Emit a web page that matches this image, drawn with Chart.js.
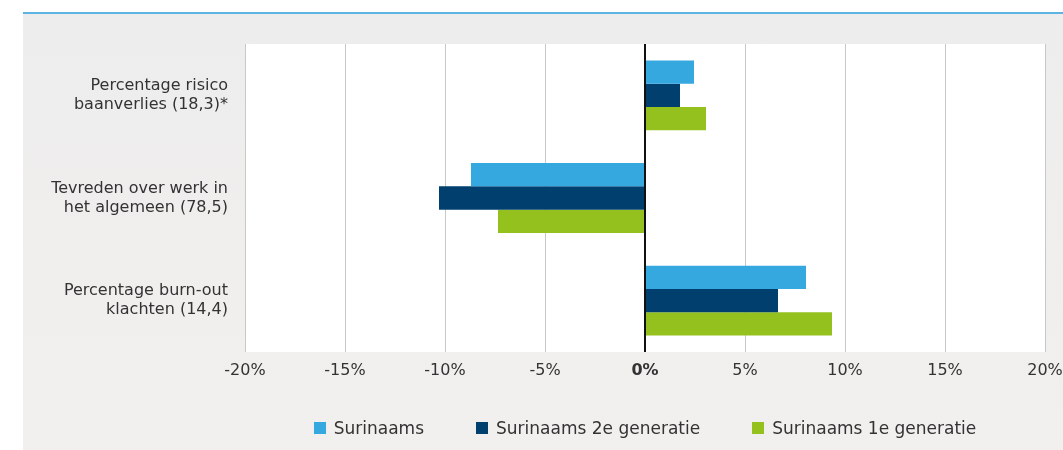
<!DOCTYPE html>
<html>
<head>
<meta charset="utf-8">
<script src="https://cdn.jsdelivr.net/npm/chart.js@4.4.0/dist/chart.umd.min.js"></script>
<style>
  html, body { margin: 0; padding: 0; background: #fff; }
  #wrap { position: relative; width: 1063px; height: 450px; overflow: hidden; }
  #panel {
    position: absolute; left: 23px; top: 12px; right: 0; bottom: 0;
    border-top: 2px solid #5bb4e2;
    background: linear-gradient(#ededed, #f2f0ee);
  }
  #chart { position: absolute; left: 0; top: 0; }
  #legend {
    position: absolute; top: 418px; left: 245px; width: 800px;
    display: flex; justify-content: center; gap: 52px;
    font-family: "DejaVu Sans", sans-serif; font-size: 17px; color: #333;
  }
  #legend span.item { display: flex; align-items: center; }
  #legend i { display: inline-block; width: 12px; height: 12px; margin-right: 8px; }
</style>
</head>
<body>
<div id="wrap">
  <div id="panel"></div>
  <canvas id="chart" width="1063" height="450"></canvas>
  <div id="legend"></div>
</div>
<script>
// data (difference in percentage points)
const categories = [
  ["Percentage risico", "baanverlies (18,3)*"],
  ["Tevreden over werk in", "het algemeen (78,5)"],
  ["Percentage burn-out", "klachten (14,4)"],
];
const seriesNames = ["Surinaams", "Surinaams 2e generatie", "Surinaams 1e generatie"];
const surinaams = [2.45, -8.7, 8.05];
const surinaams2e = [1.75, -10.3, 6.65];
const surinaams1e = [3.05, -7.35, 9.35];
const xTicks = [-20, -15, -10, -5, 0, 5, 10, 15, 20];
const colors = ["#35a8e0", "#003f6e", "#95c11f"];

const FONT = "'DejaVu Sans', sans-serif";

// white plot background
const plotBg = {
  id: "plotBg",
  beforeDraw(chart) {
    const { ctx, chartArea: a } = chart;
    ctx.save();
    ctx.fillStyle = "#ffffff";
    ctx.fillRect(a.left, a.top, a.right - a.left, a.bottom - a.top);
    ctx.restore();
  },
};

const ctx = document.getElementById("chart").getContext("2d");
const chart = new Chart(ctx, {
  type: "bar",
  data: {
    labels: categories,
    datasets: [surinaams, surinaams2e, surinaams1e].map((d, i) => ({
      label: seriesNames[i],
      data: d,
      backgroundColor: colors[i],
      borderWidth: 0,
      categoryPercentage: 0.68,
      barPercentage: 1.0,
    })),
  },
  options: {
    indexAxis: "y",
    responsive: false,
    animation: false,
    layout: { padding: { left: 0, right: 18, top: 44, bottom: 0 } },
    plugins: { legend: { display: false }, tooltip: { enabled: false } },
    scales: {
      x: {
        min: -20,
        max: 20,
        afterBuildTicks: (s) => { s.ticks = xTicks.map((v) => ({ value: v })); },
        afterFit: (s) => { s.height = 98; s.paddingLeft = 0; s.paddingRight = 0; },
        border: { display: false },
        grid: {
          drawTicks: false,
          color: (c) => (c.tick && c.tick.value === 0 ? "#111111" : "#c8c8c8"),
          lineWidth: (c) => (c.tick && c.tick.value === 0 ? 2 : 1),
        },
        ticks: {
          padding: 9,
          color: "#333",
          font: (c) => ({ family: FONT, size: 16, weight: c.tick && c.tick.value === 0 ? "bold" : "normal" }),
          callback: (v) => v + "%",
        },
      },
      y: {
        afterFit: (s) => { s.width = 245; },
        border: { display: false },
        grid: { display: false, drawTicks: false },
        ticks: {
          padding: 17,
          color: "#333",
          font: { family: FONT, size: 16, lineHeight: 1.2 },
        },
      },
    },
  },
  plugins: [plotBg],
});

// legend as html so it sits centred under the plot area
const legend = document.getElementById("legend");
seriesNames.forEach((n, i) => {
  const item = document.createElement("span");
  item.className = "item";
  item.innerHTML = `<i style="background:${colors[i]}"></i>${n}`;
  legend.appendChild(item);
});
</script>
</body>
</html>
